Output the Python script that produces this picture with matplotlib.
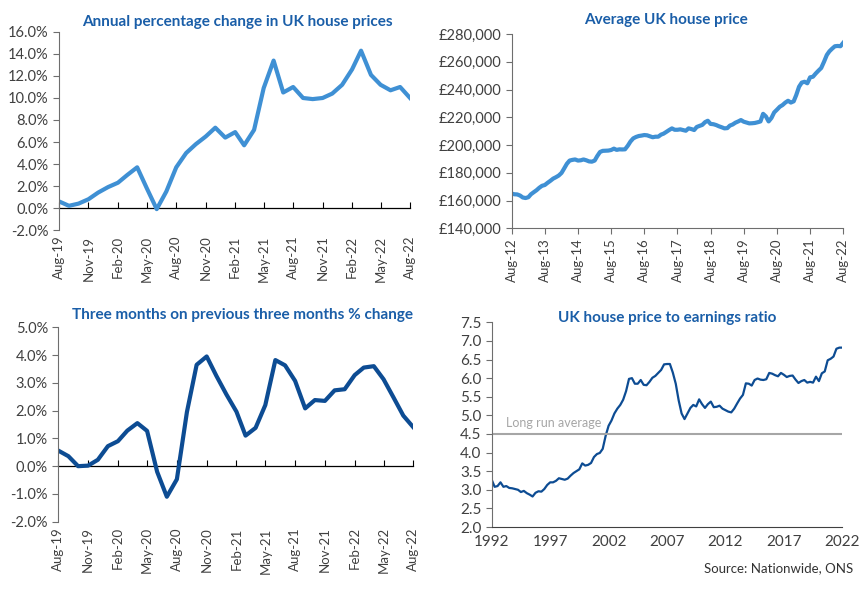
import matplotlib
matplotlib.use("Agg")
from matplotlib import pyplot as plt
from matplotlib.ticker import FuncFormatter, MultipleLocator
import pandas as pd

plt.rcParams['font.family'] = ['Lato', 'DejaVu Sans']

# annual % change, monthly Aug-19 .. Aug-22
annual_change = [0.6, 0.2, 0.4, 0.8, 1.4, 1.9, 2.3, 3.0, 3.7, 1.8, -0.1, 1.5,
                 3.7, 5.0, 5.8, 6.5, 7.3, 6.4, 6.9, 5.7, 7.1, 10.9, 13.4, 10.5,
                 11.0, 10.0, 9.9, 10.0, 10.4, 11.2, 12.6, 14.3, 12.1, 11.2, 10.7, 11.0,
                 10.0]

# three months on previous three months % change, Aug-19 .. Aug-22
three_month_change = [0.56, 0.36, 0.0, 0.02, 0.23, 0.72, 0.9, 1.28, 1.55, 1.27, -0.2, -1.1,
                      -0.47, 1.95, 3.65, 3.95, 3.25, 2.58, 1.96, 1.1, 1.38, 2.2, 3.82, 3.63,
                      3.07, 2.08, 2.38, 2.35, 2.73, 2.77, 3.28, 3.55, 3.6, 3.13, 2.47, 1.82,
                      1.4]

# average UK house price (GBP thousands), monthly Aug-12 .. Aug-22
avg_price_k = [165.0, 164.5, 164.4, 163.6, 162.2, 161.8, 162.4, 164.5, 166.0, 167.4, 169.2, 170.6,
               171.2, 172.8, 174.2, 175.8, 176.8, 178.0, 179.9, 183.0, 186.5, 188.8, 189.3, 189.6,
               188.8, 189.0, 189.6, 189.0, 188.2, 188.0, 188.8, 192.0, 195.0, 195.8, 195.9, 196.0,
               196.4, 197.4, 196.5, 196.9, 196.8, 196.9, 199.5, 202.5, 204.8, 205.8, 206.5, 206.8,
               207.2, 207.0, 206.3, 205.6, 206.0, 206.0, 207.5, 208.2, 209.5, 210.8, 212.0, 211.0,
               211.0, 211.3, 210.8, 210.3, 212.0, 211.5, 210.8, 213.0, 213.8, 214.5, 216.5, 217.5,
               215.2, 215.0, 214.4, 213.5, 212.8, 212.0, 212.2, 214.0, 214.8, 216.1, 217.0, 218.0,
               216.8, 216.2, 215.6, 215.7, 215.9, 216.4, 217.0, 222.5, 220.6, 217.0, 219.5, 223.5,
               225.5, 227.6, 228.8, 230.6, 231.9, 230.6, 231.5, 236.0, 242.0, 245.0, 245.6, 244.5,
               248.8, 249.2, 251.5, 253.6, 255.5, 260.0, 264.9, 267.5, 269.5, 271.2, 271.4, 271.2,
               273.7]

# house price to earnings ratio, quarterly 1992 Q1 .. 2022 Q1
price_earnings = [3.27, 3.08, 3.10, 3.20, 3.08, 3.10, 3.05, 3.04, 3.02, 3.00, 2.94, 2.97,
                  2.91, 2.87, 2.82, 2.92, 2.96, 2.95, 3.02, 3.13, 3.20, 3.20, 3.24, 3.31,
                  3.29, 3.27, 3.30, 3.38, 3.45, 3.50, 3.55, 3.71, 3.65, 3.67, 3.72, 3.88,
                  3.96, 3.99, 4.10, 4.45, 4.72, 4.86, 5.05, 5.18, 5.28, 5.42, 5.65, 5.98,
                  6.00, 5.85, 5.85, 5.95, 5.82, 5.81, 5.90, 6.01, 6.06, 6.14, 6.22, 6.37,
                  6.38, 6.38, 6.15, 5.85, 5.40, 5.05, 4.90, 5.05, 5.20, 5.28, 5.24, 5.43,
                  5.30, 5.20, 5.30, 5.37, 5.22, 5.23, 5.26, 5.18, 5.14, 5.10, 5.08, 5.18,
                  5.32, 5.45, 5.55, 5.86, 5.85, 5.80, 5.95, 5.99, 5.96, 5.95, 5.97, 6.14,
                  6.12, 6.08, 6.05, 6.14, 6.09, 6.03, 6.06, 6.07, 5.96, 5.87, 5.92, 5.95,
                  5.88, 5.90, 5.88, 6.04, 5.92, 6.13, 6.18, 6.48, 6.52, 6.58, 6.79, 6.82,
                  6.82]
long_run_average = 4.5
ratio_years = [1992, 1997, 2002, 2007, 2012, 2017, 2022]

title_blue = '#1a5ea8'
light_blue = '#3f90d4'
dark_blue = '#0d4c93'
tick_grey = '#404040'
axis_grey = '#6e6e6e'

months_short = pd.date_range('2019-08-01', periods=len(annual_change), freq='MS')
months_long = pd.date_range('2012-08-01', periods=len(avg_price_k), freq='MS')
quarters = pd.date_range('1992-01-01', periods=len(price_earnings), freq='QS')

fig = plt.figure(figsize=(8.68, 5.99), dpi=100)
ax1 = fig.add_axes([0.068, 0.616, 0.4044, 0.3306])
ax2 = fig.add_axes([0.5895, 0.6189, 0.382, 0.3243])
ax3 = fig.add_axes([0.0672, 0.129, 0.409, 0.3246])
ax4 = fig.add_axes([0.5665, 0.1202, 0.4039, 0.3417])


def style(ax):
    for s in ['top', 'right']:
        ax.spines[s].set_visible(False)
    ax.spines['left'].set_color(axis_grey)
    ax.spines['bottom'].set_color(axis_grey)
    ax.tick_params(colors=tick_grey, labelsize=10.5, length=4, width=0.8)
    ax.tick_params(axis='both', color=axis_grey)


def pct_panel(ax, x, y, color, ymin, ymax, step):
    style(ax)
    ax.plot(x, y, color=color, lw=3, solid_joinstyle='round')
    ax.set_ylim(ymin, ymax)
    ax.set_xlim(x[0], x[-1])
    ax.yaxis.set_major_locator(MultipleLocator(step))
    ax.yaxis.set_major_formatter(FuncFormatter(lambda v, p: f'{v:.1f}%'))
    ticks = x[::3]
    ax.set_xticks(ticks)
    ax.set_xticklabels([d.strftime('%b-%y') for d in ticks], rotation=90, fontsize=9.5)
    ax.tick_params(axis='x', length=0, pad=4)
    ax.spines['bottom'].set_visible(False)
    # zero line carrying the month ticks
    zero = ax.secondary_xaxis((0 - ymin) / (ymax - ymin))
    zero.set_xticks(ticks)
    zero.tick_params(labelbottom=False, length=4, width=0.8, color='black', direction='in')
    zero.spines['bottom'].set_color('black')
    zero.spines['bottom'].set_linewidth(0.9)


pct_panel(ax1, months_short, annual_change, light_blue, -2, 16, 2)
pct_panel(ax3, months_short, three_month_change, dark_blue, -2, 5, 1)

# average price
style(ax2)
ax2.plot(months_long, [v * 1000 for v in avg_price_k], color=light_blue, lw=3,
         solid_joinstyle='round')
ax2.set_ylim(140000, 280000)
ax2.set_xlim(months_long[0], months_long[-1])
ax2.yaxis.set_major_locator(MultipleLocator(20000))
ax2.yaxis.set_major_formatter(FuncFormatter(lambda v, p: f'£{v:,.0f}'))
xticks2 = months_long[::12]
ax2.set_xticks(xticks2)
ax2.set_xticklabels([d.strftime('%b-%y') for d in xticks2], rotation=90, fontsize=9.5)

# price to earnings
style(ax4)
ax4.plot(quarters, price_earnings, color=dark_blue, lw=1.6)
ax4.axhline(long_run_average, color='#a6a6a6', lw=1.5)
ax4.text(pd.Timestamp('1993-04-01'), long_run_average + 0.12, 'Long run average',
         color='#a6a6a6', fontsize=9, va='bottom')
ax4.set_ylim(2.0, 7.5)
ax4.set_xlim(quarters[0], quarters[-1])
ax4.yaxis.set_major_locator(MultipleLocator(0.5))
ax4.yaxis.set_major_formatter(FuncFormatter(lambda v, p: f'{v:.1f}'))
ax4.set_xticks([pd.Timestamp(f'{y}-01-01') for y in ratio_years])
ax4.set_xticklabels([str(y) for y in ratio_years])
ax4.tick_params(axis='x', length=0, pad=6, labelsize=11)
ax4.tick_params(axis='y', labelsize=11)
ax4.spines['bottom'].set_color('#404040')

title_kw = dict(color=title_blue, fontsize=11, fontweight='bold', ha='center', va='center')
fig.text(237 / 868, 1 - 22 / 599, 'Annual percentage change in UK house prices', **title_kw)
fig.text(666 / 868, 1 - 20 / 599, 'Average UK house price', **title_kw)
fig.text(242 / 868, 1 - 315 / 599, 'Three months on previous three months % change', **title_kw)
fig.text(667 / 868, 1 - 318 / 599, 'UK house price to earnings ratio', **title_kw)

fig.text(853 / 868, 1 - 568 / 599, 'Source: Nationwide, ONS', color='#333333',
         fontsize=9.5, ha='right', va='center')

fig.savefig('out.png', dpi=100)
